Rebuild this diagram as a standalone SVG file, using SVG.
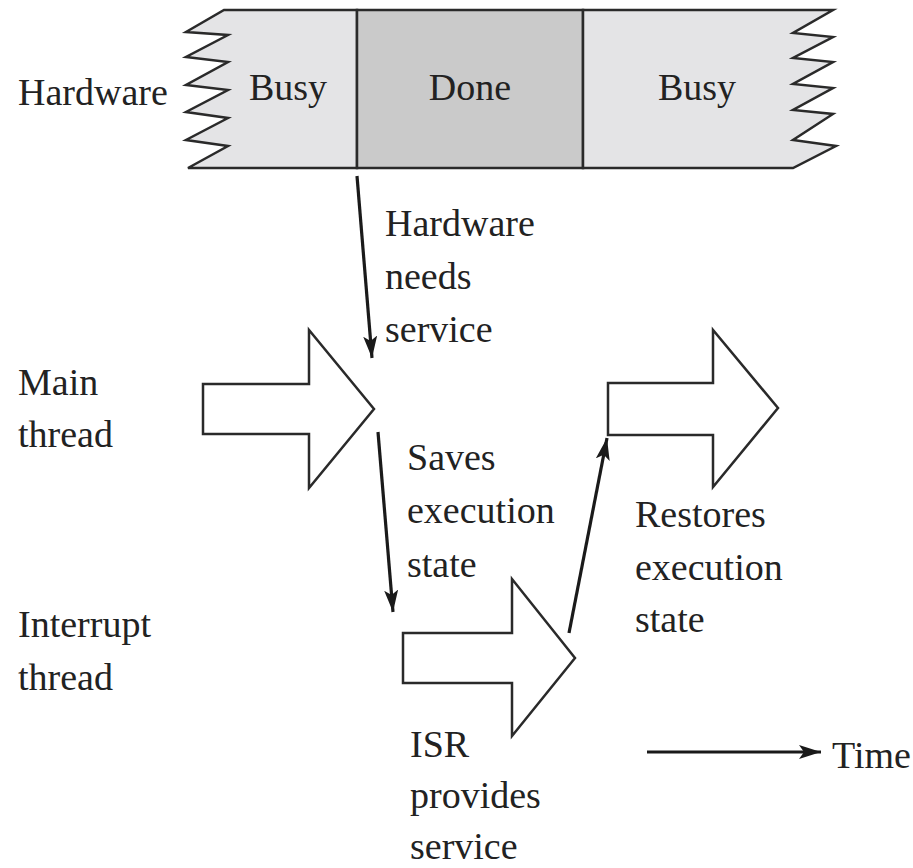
<svg xmlns="http://www.w3.org/2000/svg" width="913" height="868" viewBox="0 0 913 868">
<style>
text{font-family:"Liberation Serif","Times New Roman",serif;font-size:38px;fill:#222}
.bar{stroke:#2a2a2a;stroke-width:2.5;stroke-linejoin:miter}
.blk{fill:#fff;stroke:#2a2a2a;stroke-width:2.5;stroke-linejoin:miter}
.con{stroke:#1a1a1a;stroke-width:3.2;fill:none;marker-end:url(#ah)}
</style>
<defs>
<marker id="ah" markerWidth="24" markerHeight="14" refX="22" refY="7" orient="auto" markerUnits="userSpaceOnUse">
<path d="M0,0 L22,7 L0,14 L5,7 Z" fill="#1a1a1a"/>
</marker>
</defs>
<rect width="913" height="868" fill="#fff"/>
<g id="hardware">
<path class="bar" fill="#e4e4e6" d="M224,10 L357,10 L357,168 L188,168 L228,146 L186,140 L228,118 L186,112 L228,90 L186,85 L228,62 L186,57 L228,35 L186,32 Z"/>
<rect class="bar" fill="#cacaca" x="357" y="10" width="226" height="158"/>
<path class="bar" fill="#e4e4e6" d="M583,10 L833,10 L793,33 L833,37 L793,58 L833,62 L793,84 L833,88 L793,110 L833,114 L793,140 L836,146 L793,168 L583,168 Z"/>
<text x="288" y="100" text-anchor="middle">Busy</text>
<text x="470" y="100" text-anchor="middle">Done</text>
<text x="697" y="100" text-anchor="middle">Busy</text>
<text x="18" y="105">Hardware</text>
</g>
<g id="main-thread">
<path class="blk" d="M203,384 L309,384 L309,330 L374,409 L309,488 L309,434 L203,434 Z"/>
<text x="18" y="395">Main</text>
<text x="18" y="447">thread</text>
</g>
<g id="interrupt-thread">
<path class="blk" d="M403,633 L512,633 L512,579 L575,658 L512,736 L512,683 L403,683 Z"/>
<text x="18" y="637">Interrupt</text>
<text x="18" y="690">thread</text>
</g>
<g id="main-resume">
<path class="blk" d="M608,383 L713,383 L713,330 L778,408 L713,487 L713,435 L608,435 Z"/>
</g>
<g id="connectors">
<line class="con" x1="357" y1="176" x2="372" y2="358"/>
<line class="con" x1="378" y1="432" x2="393" y2="612"/>
<line class="con" x1="569" y1="633" x2="607" y2="438"/>
<line class="con" x1="647" y1="752" x2="821" y2="752"/>
</g>
<g id="labels">
<text x="385" y="236">Hardware</text>
<text x="385" y="289">needs</text>
<text x="385" y="342">service</text>
<text x="407" y="470">Saves</text>
<text x="407" y="523">execution</text>
<text x="407" y="577">state</text>
<text x="635" y="527">Restores</text>
<text x="635" y="580">execution</text>
<text x="635" y="632">state</text>
<text x="410" y="757">ISR</text>
<text x="410" y="808">provides</text>
<text x="410" y="859">service</text>
<text x="832" y="768">Time</text>
</g>
</svg>
